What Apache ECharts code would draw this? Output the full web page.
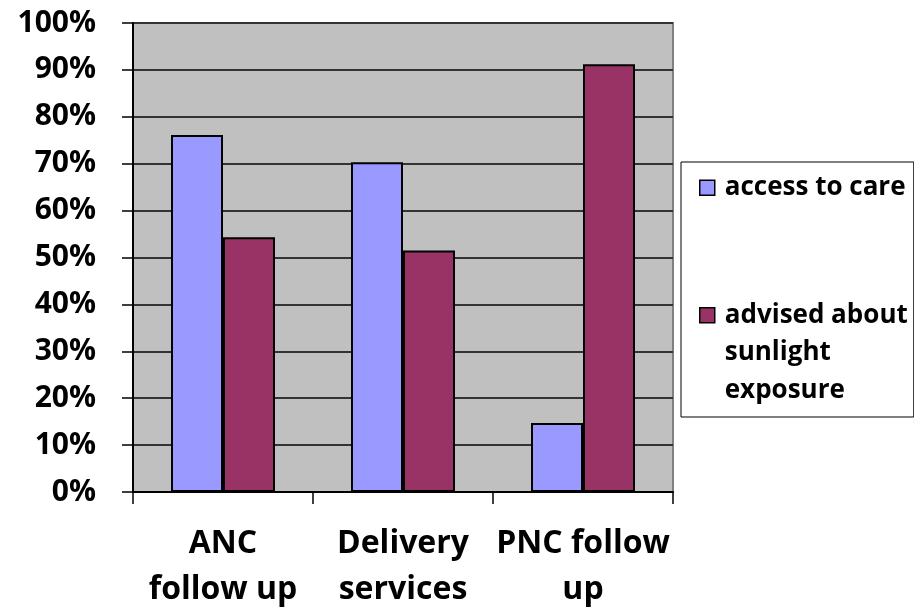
<!DOCTYPE html>
<html>
<head>
<meta charset="utf-8">
<style>
  html, body { margin: 0; padding: 0; background: #fff; }
  #chart { width: 914px; height: 611px; }
</style>
<script src="https://cdn.jsdelivr.net/npm/echarts@6/dist/echarts.min.js"></script>
</head>
<body>
<div id="chart"></div>
<script>
// Care stages shown along the x axis (line breaks are part of the label)
const categories = ['ANC\nfollow up', 'Delivery\nservices', 'PNC follow\nup'];

// Share of women (%) per care stage
const accessToCare = [76.1, 70.3, 14.7];
const advisedSunlight = [54.3, 51.5, 91.2];

const seriesNames = ['access to care', 'advised about sunlight exposure'];

// Y axis: 0%..100% every 10%
const yMin = 0;
const yMax = 100;
const yStep = 10;

const FONT = '"Open Sans", "Liberation Sans", sans-serif';

const chart = echarts.init(document.getElementById('chart'), null, { renderer: 'canvas' });

const barBorder = { borderColor: '#000', borderWidth: 2 };

chart.setOption({
  animation: false,
  backgroundColor: '#ffffff',
  grid: {
    left: 133, right: 241, top: 23, bottom: 119,
    outerBoundsMode: 'none',
    containLabel: false,
    show: true,
    backgroundColor: '#c0c0c0',
    borderColor: '#808080',
    borderWidth: 2
  },
  legend: {
    orient: 'vertical',
    left: 681, top: 162,
    padding: [7, 6, 8, 18],
    itemGap: 15,
    itemWidth: 15,
    itemHeight: 15,
    icon: 'rect',
    borderColor: '#000',
    borderWidth: 1,
    backgroundColor: '#fff',
    data: seriesNames,
    formatter: function (name) {
      // wrap the long entry; blank lines above keep the swatch on the first line
      if (name === seriesNames[1]) return '\n\nadvised about\nsunlight\nexposure';
      return name;
    },
    itemStyle: { borderColor: '#000', borderWidth: 1.5 },
    textStyle: {
      fontFamily: FONT, fontWeight: 'bold', fontSize: 26,
      color: '#000', lineHeight: 37.5,
      padding: [0, 0, 0, 5]
    }
  },
  xAxis: {
    type: 'category',
    data: categories,
    axisLine: { show: true, lineStyle: { color: '#000', width: 2 } },
    axisTick: { show: true, alignWithLabel: false, length: 12, lineStyle: { color: '#000', width: 1.5 } },
    axisLabel: {
      margin: 29,
      interval: 0,
      fontFamily: FONT, fontWeight: 'bold', fontSize: 32,
      color: '#000', lineHeight: 46
    },
    splitLine: { show: false }
  },
  yAxis: {
    type: 'value',
    min: yMin, max: yMax, interval: yStep,
    axisLine: { show: true, lineStyle: { color: '#000', width: 2 } },
    axisTick: { show: true, length: 11, lineStyle: { color: '#000', width: 1.5 } },
    axisLabel: {
      margin: 37,
      formatter: '{value}%',
      fontFamily: FONT, fontWeight: 'bold', fontSize: 30,
      color: '#000'
    },
    splitLine: { show: true, lineStyle: { color: '#333', width: 2 } }
  },
  series: [
    {
      name: seriesNames[0],
      type: 'bar',
      data: accessToCare,
      barWidth: 52,
      barGap: '0%',
      itemStyle: Object.assign({ color: '#9999ff' }, barBorder)
    },
    {
      name: seriesNames[1],
      type: 'bar',
      data: advisedSunlight,
      barWidth: 52,
      barGap: '0%',
      itemStyle: Object.assign({ color: '#993366' }, barBorder)
    }
  ]
});
</script>
</body>
</html>
